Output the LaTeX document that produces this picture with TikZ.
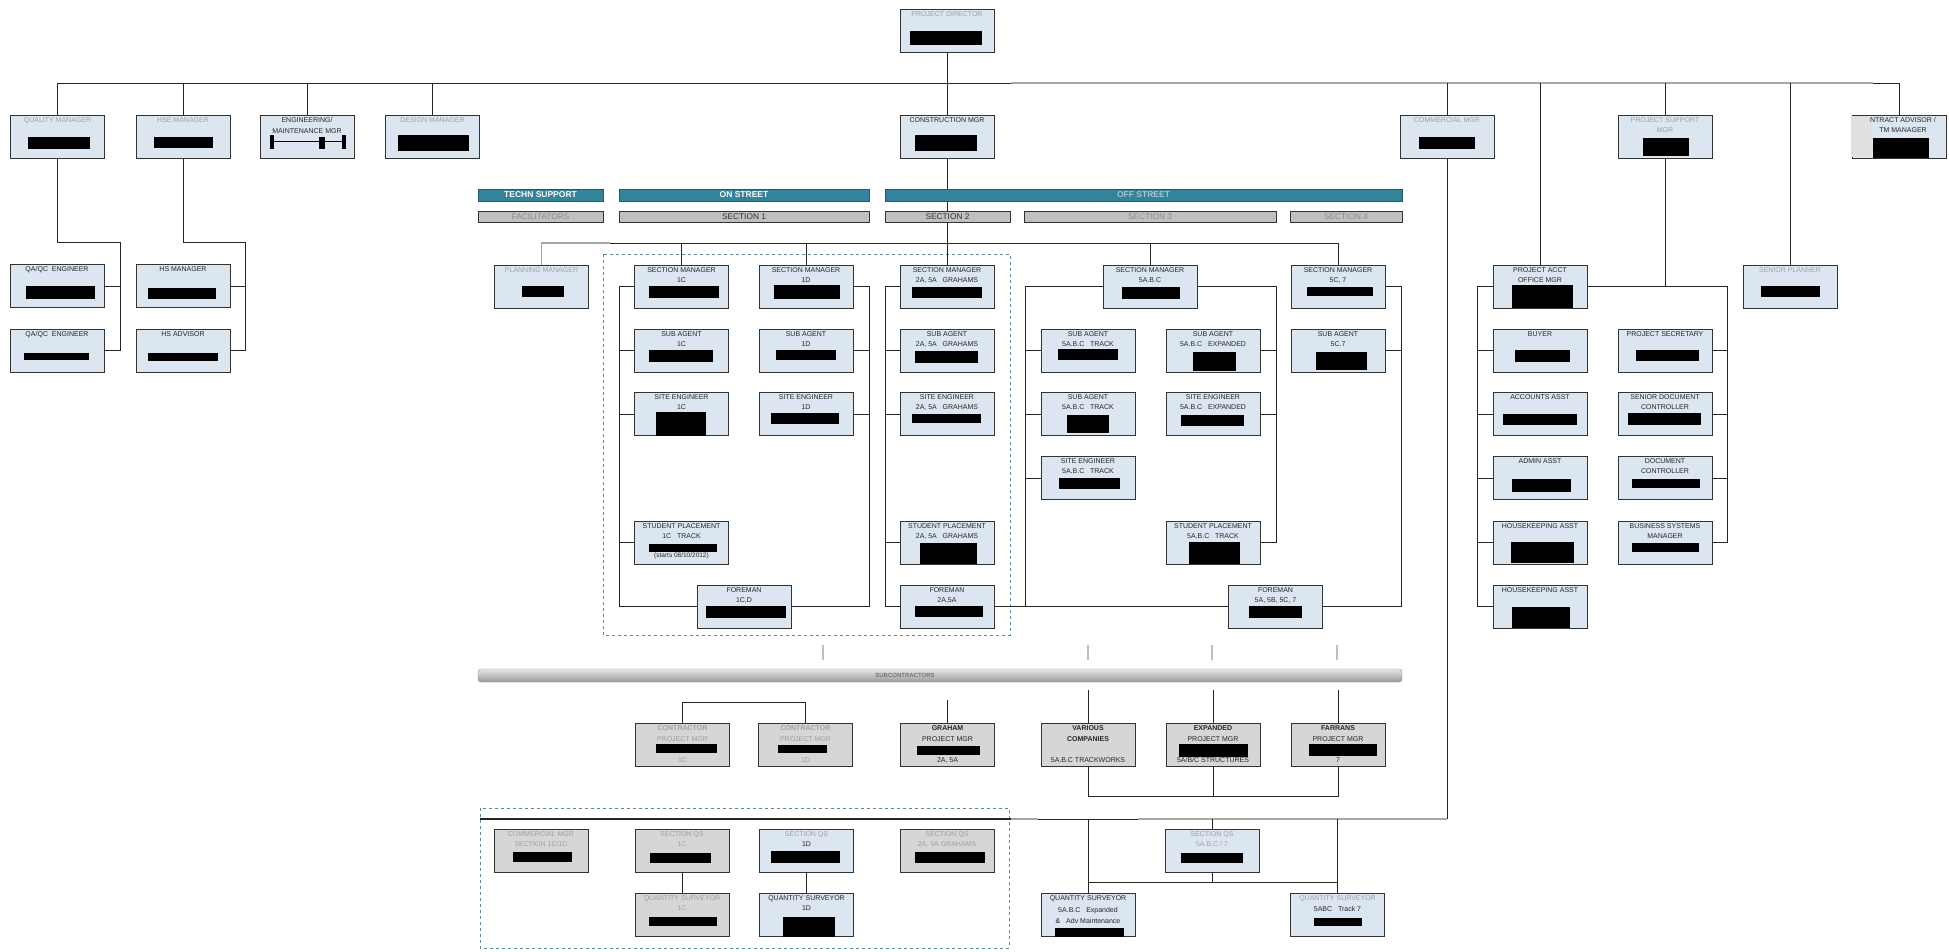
\documentclass[tikz,border=0pt]{standalone}
\usepackage{fontspec}
\setmainfont{Liberation Sans}
\definecolor{boxblue}{RGB}{220,230,241}
\definecolor{boxgrey}{RGB}{214,214,214}
\definecolor{tealbar}{RGB}{49,132,155}
\definecolor{secgrey}{RGB}{192,192,192}
\definecolor{dashteal}{RGB}{92,140,152}
\definecolor{fadegrey}{RGB}{160,160,160}

% blurred names in the chart
\newcommand\faded[1]{{\color{fadegrey}#1}}
% box, its title and the black name bar
\newcommand\role[5][rolebox]{%
  \node[#1] (#2) at (#3) {};
  \node[rolelabel] (#2-t) at (#2.north) {#4};
  \fill[redact] #5;}

\begin{document}
\begin{tikzpicture}[x=1pt, y=-1pt,
  rolebox/.style={rectangle, draw=black!80, line width=0.9pt, fill=boxblue, minimum width=94pt, minimum height=43pt, inner sep=0pt, outer sep=0pt},
  subbox/.style={rolebox, fill=boxgrey},
  rolelabel/.style={font=\fontsize{7}{10}\selectfont, align=center, anchor=north, inner sep=2pt, text=black!85},
  redact/.style={fill=black},
  conn/.style={draw=black!85, line width=0.8pt},
  greyconn/.style={draw=black!35, line width=1.6pt},
  faintconn/.style={draw=black!25, line width=1.2pt},
  teambar/.style={rectangle, fill=tealbar, draw=tealbar!70!black, minimum height=12pt, inner sep=0pt, font=\fontsize{8.5}{9}\selectfont\bfseries, text=white},
  secbar/.style={rectangle, fill=secgrey, draw=black!80, line width=0.8pt, minimum height=11pt, inner sep=0pt, font=\fontsize{8.3}{9}\selectfont, text=black!80},
  subbar/.style={rectangle, rounded corners=3pt, draw=black!45, top color=black!10, bottom color=black!40, minimum width=924pt, minimum height=13pt, inner sep=0pt},
  groupbox/.style={draw=dashteal, dashed, line width=1pt}
]
\fill[white] (0,0) rectangle (1949,952);
\useasboundingbox (0,0) rectangle (1949,952);

% Groups
\draw[groupbox] (603,254) rectangle (1010,635);
\draw[groupbox] (480,808) rectangle (1009,948);

% Top of the project
\role{pd}{947,30.5}{\faded{PROJECT DIRECTOR}}{(910,31) rectangle (982,45)}
\role{qm}{57.5,136.5}{\faded{QUALITY MANAGER}}{(28,137) rectangle (90,149)}
\role{hse}{183,136.5}{\faded{HSE MANAGER}}{(154,137) rectangle (213,148)}
\node[rolebox] (eng) at (307,136.5) {};
\node[rolelabel] (eng-t) at (eng.north) {ENGINEERING/\\[1pt]MAINTENANCE MGR};
\draw[line width=1pt] (271,142) -- (344,142);
\fill (270,135) rectangle (274,149);
\fill (342,135) rectangle (346,149);
\fill (319,137) rectangle (325,149);
\role{des}{432.5,136.5}{\faded{DESIGN MANAGER}}{(398,135) rectangle (469,151)}
\role{cm}{947,136.5}{CONSTRUCTION MGR}{(915,135) rectangle (977,151)}
\role{com}{1447,136.5}{\faded{COMMERCIAL MGR}}{(1419,137) rectangle (1475,149)}
\role{psm}{1665,136.5}{\faded{PROJECT SUPPORT}\\\faded{MGR}}{(1643,138) rectangle (1689,156)}
\node[rolebox] (ca) at (1899,136.5) {};
\fill[black!12] (1851,116) rectangle (1872,157);
\node[rolelabel] (ca-t) at (1903,115) {NTRACT ADVISOR /\\TM MANAGER};
\fill[redact] (1873,138) rectangle (1929,158);

% Quality and HSE
\role{qa1}{57,286}{QA/QC\ \ ENGINEER}{(26,286) rectangle (95,299)}
\role{qa2}{57,350.5}{QA/QC\ \ ENGINEER}{(24,353) rectangle (89,360)}
\role{hsm}{183,286}{HS MANAGER}{(148,288) rectangle (216,299)}
\role{hsa}{183,350.5}{HS ADVISOR}{(148,353) rectangle (218,361)}

% Techn support
\role{tsm}{541.5,286.5}{\faded{PLANNING MANAGER}}{(522,286) rectangle (564,297)}

% Section 1
\role{sm1c}{681.5,286.5}{SECTION MANAGER\\1C}{(649,286) rectangle (719,298)}
\role{sa1c}{681.5,350.5}{SUB AGENT\\1C}{(649,350) rectangle (713,362)}
\role{se1c}{681.5,414}{SITE ENGINEER\\1C}{(656,412) rectangle (706,435.5)}
\role{sp1c}{681.5,542.5}{STUDENT PLACEMENT\\1C\ \ \ TRACK\\[9pt]{\fontsize{6.5}{7}\selectfont(starts 08/10/2012)}}{(649,544) rectangle (717,552)}
\role{sm1d}{806,286.5}{SECTION MANAGER\\1D}{(774,285) rectangle (840,299)}
\role{sa1d}{806,350.5}{SUB AGENT\\1D}{(776,350) rectangle (836,360)}
\role{se1d}{806,414}{SITE ENGINEER\\1D}{(771,413) rectangle (839,424)}
\role{fm1c}{744,606.5}{FOREMAN\\1C,D}{(706,606) rectangle (786,618)}

% Section 2
\role{sm2a}{947,286.5}{SECTION MANAGER\\2A, 5A\ \ \ GRAHAMS}{(912,287) rectangle (982,298)}
\role{sa2a}{947,350.5}{SUB AGENT\\2A, 5A\ \ \ GRAHAMS}{(915,351) rectangle (978,363)}
\role{se2a}{947,414}{SITE ENGINEER\\2A, 5A\ \ \ GRAHAMS}{(912,414) rectangle (981,423)}
\role{sp2a}{947,542.5}{STUDENT PLACEMENT\\2A, 5A\ \ \ GRAHAMS}{(920,543) rectangle (977,564)}
\role{fm2a}{947,606.5}{FOREMAN\\2A,5A}{(915,606) rectangle (983,617)}

% Section 3
\role{sm5abc}{1150,286.5}{SECTION MANAGER\\5A.B.C}{(1122,287) rectangle (1180,299)}
\role{sa5t}{1088,350.5}{SUB AGENT\\5A.B.C\ \ \ TRACK}{(1058,349) rectangle (1118,360)}
\role{sa5t2}{1088,414}{SUB AGENT\\5A.B.C\ \ \ TRACK}{(1067,415) rectangle (1109,433)}
\role{se5t}{1088,478}{SITE ENGINEER\\5A.B.C\ \ \ TRACK}{(1059,478) rectangle (1120,489)}
\role{sa5e}{1213,350.5}{SUB AGENT\\5A.B.C\ \ \ EXPANDED}{(1193,352) rectangle (1236,371)}
\role{se5e}{1213,414}{SITE ENGINEER\\5A.B.C\ \ \ EXPANDED}{(1181,415) rectangle (1244,426)}
\role{sp5}{1213,542.5}{STUDENT PLACEMENT\\5A.B.C\ \ \ TRACK}{(1189,542) rectangle (1240,564)}
\role{fm5}{1275.5,606.5}{FOREMAN\\5A, 5B, 5C, 7}{(1249,606) rectangle (1302,618)}

% Section 4
\role{sm5c7}{1338,286.5}{SECTION MANAGER\\5C, 7}{(1307,287) rectangle (1373,296)}
\role{sa5c7}{1338,350.5}{SUB AGENT\\5C.7}{(1316,352) rectangle (1367,370)}

% Project support
\role{pao}{1540,286.5}{PROJECT ACCT\\OFFICE MGR}{(1512,285) rectangle (1573,308)}
\role{buyer}{1540,350.5}{BUYER}{(1515,350) rectangle (1570,362)}
\role{acc}{1540,414}{ACCOUNTS ASST}{(1503,414) rectangle (1577,425)}
\role{admin}{1540,478}{ADMIN ASST}{(1512,479) rectangle (1571,492)}
\role{hk1}{1540,542.5}{HOUSEKEEPING ASST}{(1511,542) rectangle (1574,563)}
\role{hk2}{1540,606.5}{HOUSEKEEPING ASST}{(1512,607) rectangle (1570,628)}
\role{psec}{1665,350.5}{PROJECT SECRETARY}{(1636,350) rectangle (1699,361)}
\role{sdc}{1665,414}{SENIOR DOCUMENT\\CONTROLLER}{(1628,413) rectangle (1701,425)}
\role{dc}{1665,478}{DOCUMENT\\CONTROLLER}{(1632,479) rectangle (1700,488)}
\role{bsm}{1665,542.5}{BUSINESS SYSTEMS\\MANAGER}{(1632,543) rectangle (1699,552)}
\role{est}{1790,286.5}{\faded{SENIOR PLANNER}}{(1761,286) rectangle (1820,297)}

% Subcontractors
\role[subbox]{sc1}{682.5,744.5}{\faded{\textbf{CONTRACTOR}}\\[1pt]\faded{PROJECT MGR}\\[11pt]\faded{1C}}{(656,744) rectangle (717,753)}
\role[subbox]{sc2}{805.5,744.5}{\faded{\textbf{CONTRACTOR}}\\[1pt]\faded{PROJECT MGR}\\[11pt]\faded{1D}}{(778,745) rectangle (827,753)}
\role[subbox]{graham}{947.5,744.5}{\textbf{GRAHAM}\\[1pt]PROJECT MGR\\[11pt]2A, 5A}{(917,746) rectangle (980,755)}
\role[subbox]{various}{1088,744.5}{\textbf{VARIOUS}\\[1pt]\textbf{COMPANIES}\\[11pt]5A.B.C TRACKWORKS}{}
\role[subbox]{expanded}{1213,744.5}{\textbf{EXPANDED}\\[1pt]PROJECT MGR\\[11pt]5A/B/C STRUCTURES}{(1179,744) rectangle (1248,757)}
\role[subbox]{farrans}{1338,744.5}{\textbf{FARRANS}\\[1pt]PROJECT MGR\\[11pt]7}{(1309,744) rectangle (1377,756)}

% Quantity surveyors
\role[subbox]{cq}{541,851}{\faded{COMMERCIAL MGR}\\\faded{SECTION 1C/1D}}{(513,852) rectangle (572,862)}
\role[subbox]{qs1c}{682,851}{\faded{SECTION QS}\\\faded{1C}}{(650,853) rectangle (711,863)}
\role{qs1d}{806.5,851}{\faded{SECTION QS}\\1D}{(771,851) rectangle (840,863)}
\role[subbox]{qs2a}{947,851}{\faded{SECTION QS}\\\faded{2A, 5A GRAHAMS}}{(915,852) rectangle (985,863)}
\role[subbox]{qse1c}{682,915}{\faded{QUANTITY SURVEYOR}\\\faded{1C}}{(649,917) rectangle (717,926)}
\role{qse1d}{806.5,915}{QUANTITY SURVEYOR\\1D}{(783,917) rectangle (835,936.5)}
\role{qs5}{1212,851}{\faded{SECTION QS}\\\faded{5A.B.C / 7}}{(1181,853) rectangle (1243,863)}
\role{qs5e}{1088,915}{QUANTITY SURVEYOR\\[1.5pt]5A.B.C\ \ \ Expanded\\[1.5pt]\&\ \ \ Adv Maintenance}{(1055,928) rectangle (1124,936.5)}
\role{qs5t}{1337.5,915}{\faded{QUANTITY SURVEYOR}\\[1pt]5ABC\ \ \ Track 7}{(1314,918) rectangle (1362,926)}

% Top bus
\coordinate (busl) at (57.5,83);
\coordinate (busm) at (1011,83);
\coordinate (busr) at (1873,83);
\draw[conn] (qm.north) -- (busl) -- (busm);
\draw[greyconn] (busm) -- (busr);
\draw[conn] (busr) -| (ca.north);
\foreach \n in {hse,eng,des,com,psm,pao,est}
  \draw[conn] (\n.north) -- (\n.north |- busl);
\draw[conn] (pd.south) -- (cm.north);

% Quality and HSE lines
\coordinate (qmbus) at (120,242);
\draw[conn] (qm.south) |- (qmbus) |- (qa2.east);
\draw[conn] (qa1.east) -- (qa1.east -| qmbus);
\coordinate (hsebus) at (245,242);
\draw[conn] (hse.south) |- (hsebus) |- (hsa.east);
\draw[conn] (hsm.east) -- (hsm.east -| hsebus);

% Construction lines
\coordinate (secl) at (610,243);
\draw[greyconn] (tsm.north) |- (secl);
\draw[conn] (secl) -| (sm5c7.north);
\foreach \n in {sm1c,sm1d,sm5abc}
  \draw[conn] (\n.north) -- (\n.north |- secl);
\draw[conn] (cm.south) -- (sm2a.north);

\coordinate (bus1c) at (619,606.5);
\draw[conn] (sm1c.west) -| (bus1c) -- (fm1c.west);
\foreach \n in {sa1c,se1c,sp1c}
  \draw[conn] (\n.west) -- (\n.west -| bus1c);
\coordinate (bus1d) at (869,606.5);
\draw[conn] (sm1d.east) -| (bus1d) -- (fm1c.east);
\foreach \n in {sa1d,se1d}
  \draw[conn] (\n.east) -- (\n.east -| bus1d);
\coordinate (bus2a) at (885,606.5);
\draw[conn] (sm2a.west) -| (bus2a) -- (fm2a.west);
\foreach \n in {sa2a,se2a,sp2a}
  \draw[conn] (\n.west) -- (\n.west -| bus2a);
\draw[conn] (fm2a.east) -- (fm5.west);
\coordinate (bus5l) at (1025,606.5);
\draw[conn] (sm5abc.west) -| (bus5l);
\foreach \n in {sa5t,sa5t2,se5t}
  \draw[conn] (\n.west) -- (\n.west -| bus5l);
\coordinate (bus5r) at (1276,542.5);
\draw[conn] (sm5abc.east) -| (bus5r) -- (sp5.east);
\foreach \n in {sa5e,se5e}
  \draw[conn] (\n.east) -- (\n.east -| bus5r);
\coordinate (bus57) at (1401,606.5);
\draw[conn] (sm5c7.east) -| (bus57) -- (fm5.east);
\draw[conn] (sa5c7.east) -- (sa5c7.east -| bus57);

% Project support lines
\coordinate (busacc) at (1477,606.5);
\draw[conn] (pao.west) -| (busacc) -- (hk2.west);
\foreach \n in {buyer,acc,admin,hk1}
  \draw[conn] (\n.west) -- (\n.west -| busacc);
\coordinate (bussec) at (1727,542.5);
\draw[conn] (pao.east) -| (bussec) -- (bsm.east);
\foreach \n in {psec,sdc,dc}
  \draw[conn] (\n.east) -- (\n.east -| bussec);
\draw[conn] (psm.south) -- (psm.south |- pao.east);

% Subcontractor lines
\foreach \x in {823,1088,1212,1337}
  \draw[faintconn] (\x,645) -- (\x,660);
\draw[conn] (graham.north) -- ++(0,-23);
\foreach \n in {various,expanded,farrans}
  \draw[conn] (\n.north) -- ++(0,-33);
\draw[conn] (sc1.north) -- ++(0,-21) -| (sc2.north);
\draw[conn] (various.south) -- ++(0,30.5) -| (farrans.south);
\draw[conn] (expanded.south) -- ++(0,30.5);

% QS lines
\coordinate (qsbus) at (1447,819);
\draw[conn] (com.south) -- (qsbus);
\draw[greyconn] (qsbus) -- (1138,819);
\draw[conn] (1138,819) -- (1038,819);
\draw[greyconn] (1038,819) -- (1011,819);
\draw[conn, line width=1.6pt] (1011,819) -- (480,819);
\foreach \n in {qs5,qs5e,qs5t}
  \draw[conn] (\n.north) -- (\n.north |- qsbus);
\draw[conn] (qs5.south) -- ++(0,10) coordinate (qsj);
\draw[conn] (qs5e.north |- qsj) -- (qs5t.north |- qsj);
\draw[conn] (qs1c.south) -- (qse1c.north);
\draw[conn] (qs1d.south) -- (qse1d.north);

% Team and section bars
\node[teambar, minimum width=125pt] (techn) at (540.5,195) {TECHN SUPPORT};
\node[teambar, minimum width=250pt] (onst) at (744,195) {ON STREET};
\node[teambar, minimum width=517pt] (offst) at (1143.5,195) {\color{white!55!tealbar}OFF STREET};
\node[secbar, minimum width=125pt] (techsec) at (540.5,216.5) {\color{black!45}FACILITATORS};
\node[secbar, minimum width=250pt] (sec1) at (744,216.5) {SECTION 1};
\node[secbar, minimum width=125pt] (sec2) at (947.5,216.5) {SECTION 2};
\node[secbar, minimum width=252pt] (sec3) at (1150,216.5) {\color{black!45}SECTION 3};
\node[secbar, minimum width=112pt] (sec4) at (1346,216.5) {\color{black!45}SECTION 4};
\node[subbar] (subs) at (940,675.5) {};
\node[font=\fontsize{6}{7}\selectfont\bfseries, text=black!55] (subs-t) at (905,675.5) {SUBCONTRACTORS};

\end{tikzpicture}
\end{document}
